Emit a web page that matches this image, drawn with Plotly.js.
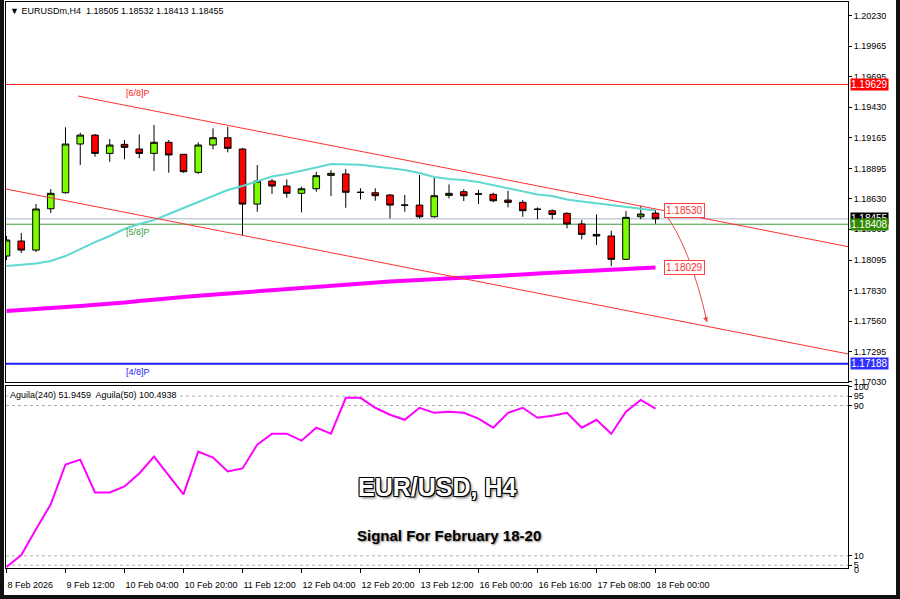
<!DOCTYPE html>
<html><head><meta charset="utf-8">
<script src="https://cdn.plot.ly/plotly-3.0.1.min.js"></script>
<style>
html,body{margin:0;padding:0;background:#fff;}
#frame{position:absolute;left:0;top:0;width:892px;height:595px;border-left:4px solid #111;border-right:4px solid #111;border-bottom:4px solid #111;background:#fff;}
#chart{width:892px;height:595px;}
</style></head><body>
<div id="frame"><div id="chart"></div></div>
<script>
// ---- data (H4 bars, index 0 = 8 Feb 2026) ----
const open  = [1.18130,1.18261,1.18182,1.18543,1.18683,1.19109,1.19187,1.19027,1.19106,1.19065,1.19027,1.19124,1.19019,1.18861,1.19100,1.19164,1.19065,1.18584,1.18785,1.18742,1.18678,1.18718,1.18835,1.18847,1.18688,1.18683,1.18663,1.18576,1.18575,1.18473,1.18660,1.18692,1.18673,1.18669,1.18619,1.18599,1.18540,1.18526,1.18503,1.18410,1.18319,1.18305,1.18101,1.18473,1.18505];
const high  = [1.18305,1.18331,1.18584,1.18715,1.19255,1.19207,1.19196,1.19152,1.19144,1.19193,1.19275,1.19144,1.19022,1.19124,1.19246,1.19260,1.19074,1.18925,1.18803,1.18800,1.18735,1.18867,1.18881,1.18890,1.18722,1.18722,1.18672,1.18663,1.18838,1.18818,1.18756,1.18713,1.18707,1.18683,1.18700,1.18619,1.18555,1.18537,1.18512,1.18444,1.18494,1.18351,1.18523,1.18569,1.18532];
const low   = [1.18095,1.18156,1.18165,1.18506,1.18676,1.18925,1.18998,1.18954,1.18975,1.18984,1.18873,1.18858,1.18858,1.18847,1.19062,1.19036,1.18313,1.18517,1.18672,1.18639,1.18512,1.18692,1.18654,1.18552,1.18625,1.18613,1.18459,1.18517,1.18459,1.18466,1.18634,1.18610,1.18584,1.18599,1.18555,1.18473,1.18451,1.18451,1.18372,1.18276,1.18226,1.18042,1.18095,1.18451,1.18413];
const close = [1.18270,1.18182,1.18541,1.18678,1.19109,1.19187,1.19027,1.19100,1.19080,1.19027,1.19124,1.19013,1.18867,1.19100,1.19164,1.19071,1.18584,1.18785,1.18742,1.18678,1.18718,1.18832,1.18853,1.18687,1.18686,1.18657,1.18575,1.18574,1.18473,1.18657,1.18678,1.18657,1.18671,1.18613,1.18599,1.18526,1.18538,1.18494,1.18410,1.18319,1.18305,1.18101,1.18468,1.18497,1.18455];
const maFast = [1.18042,1.18051,1.18064,1.18086,1.18130,1.18191,1.18252,1.18305,1.18366,1.18410,1.18444,1.18497,1.18549,1.18602,1.18654,1.18707,1.18742,1.18785,1.18825,1.18847,1.18873,1.18903,1.18934,1.18934,1.18928,1.18912,1.18899,1.18881,1.18855,1.18820,1.18803,1.18794,1.18777,1.18750,1.18724,1.18698,1.18667,1.18654,1.18624,1.18606,1.18590,1.18571,1.18558,1.18541,1.18527];
const maSlow = [1.17649,1.17656,1.17662,1.17674,1.17684,1.17693,1.17701,1.17713,1.17723,1.17736,1.17750,1.17761,1.17771,1.17783,1.17793,1.17805,1.17815,1.17824,1.17833,1.17841,1.17850,1.17862,1.17872,1.17883,1.17894,1.17901,1.17907,1.17914,1.17920,1.17927,1.17933,1.17940,1.17946,1.17953,1.17959,1.17968,1.17977,1.17984,1.17990,1.17997,1.18003,1.18007,1.18012,1.18019,1.18029];
const aguila = [4.0,10.4,24.1,37.4,58.6,61.2,43.7,43.7,46.9,53.8,62.8,52.8,42.7,65.5,62.3,54.9,56.5,69.2,75.0,75.0,71.3,78.2,75.0,94.1,94.1,88.8,85.1,82.4,88.8,86.1,86.7,86.1,83.0,78.2,86.1,88.8,83.5,84.6,86.1,78.2,82.4,75.0,86.7,93.0,88.3];

const timeTickIdx = [0,4,8,12,16,20,24,28,32,36,40,44];
const timeLabels = ["8 Feb 2026","9 Feb 12:00","10 Feb 04:00","10 Feb 20:00","11 Feb 12:00","12 Feb 04:00","12 Feb 20:00","13 Feb 12:00","16 Feb 00:00","16 Feb 16:00","17 Feb 08:00","18 Feb 00:00"];
const priceTicks = [1.20230,1.19965,1.19695,1.19430,1.19165,1.18895,1.18630,1.18365,1.18095,1.17830,1.17560,1.17295,1.17030];
const levelTicks = [100,95,90,10,5];
const levelDashed = [95,90,10,5];

const channelUpperX = [4.85, 57.1], channelUpperY = [1.19528, 1.18211];
const channelLowerX = [-1, 57.1],   channelLowerY = [1.18740, 1.17273];
const murrayNames = ["[6/8]P","[5/8]P","[4/8]P"];
const murrayLevels = [1.19629, 1.18408, 1.17188];
const murrayColors = ["#ff2020","#3c9a3c","#2020ff"];
const murrayWidths = [1, 1, 2];
const bidPrice = 1.18455;
const arrowX = [44.6, 46.3, 47.5], arrowY = [1.18506, 1.18226, 1.17553];

// ---- build ----
const idx = open.map((_, i) => i);
const FONT = "Liberation Sans, Arial, sans-serif";

const traces = [
  {type:'scatter', mode:'lines', x:idx, y:maSlow, xaxis:'x', yaxis:'y', line:{color:'#ff00ff', width:4}, hoverinfo:'skip'},
  {type:'scatter', mode:'lines', x:idx, y:maFast, xaxis:'x', yaxis:'y', line:{color:'#5fd8d0', width:2}, hoverinfo:'skip'},
  {type:'scatter', mode:'lines', x:channelUpperX, y:channelUpperY, xaxis:'x', yaxis:'y', line:{color:'#ff3030', width:1}, hoverinfo:'skip'},
  {type:'scatter', mode:'lines', x:channelLowerX, y:channelLowerY, xaxis:'x', yaxis:'y', line:{color:'#ff3030', width:1}, hoverinfo:'skip'},
  {type:'candlestick', x:idx, open:open, high:high, low:low, close:close, xaxis:'x', yaxis:'y',
   whiskerwidth:0,
   increasing:{fillcolor:'#7cfc00', line:{color:'#000', width:1}},
   decreasing:{fillcolor:'#ff0000', line:{color:'#000', width:1}}, hoverinfo:'skip'},
  {type:'scatter', mode:'lines', x:idx, y:aguila, xaxis:'x2', yaxis:'y2', line:{color:'#ff00ff', width:2}, hoverinfo:'skip'}
];

const shapes = [];
murrayLevels.forEach((v, k) => shapes.push({type:'line', xref:'x domain', x0:0, x1:1, yref:'y', y0:v, y1:v, line:{color:murrayColors[k], width:murrayWidths[k]}, layer:'below'}));
shapes.push({type:'line', xref:'x domain', x0:0, x1:1, yref:'y', y0:bidPrice, y1:bidPrice, line:{color:'#aab4c8', width:1}, layer:'below'});
levelDashed.forEach(v => shapes.push({type:'line', xref:'x domain', x0:0, x1:1, yref:'y2', y0:v, y1:v, line:{color:'#b0b0b0', width:1, dash:'dot'}, layer:'below'}));
shapes.push({type:'path', xref:'x', yref:'y',
  path:`M ${arrowX[0]},${arrowY[0]} Q ${arrowX[1]},${arrowY[1]} ${arrowX[2]},${arrowY[2]}`,
  line:{color:'#e84a4a', width:1}});

const annotations = [];
murrayLevels.forEach((v, k) => annotations.push({xref:'x', x:7.95, xanchor:'left', yref:'y', y:v, yanchor:'top', yshift:-1,
  text:murrayNames[k], showarrow:false, font:{family:FONT, size:9, color:murrayColors[k]}}));
// axis price boxes
const boxes = [[1.19629,'#ff0000'],[bidPrice,'#000000'],[1.18408,'#2f8a00'],[1.17188,'#2f2fff']];
boxes.forEach(b => annotations.push({xref:'paper', x:1, xanchor:'left', xshift:2, yref:'y', y:b[0], yanchor:'middle',
  text:b[0].toFixed(5), showarrow:false, bgcolor:b[1], borderpad:0, font:{family:FONT, size:10, color:'#fff'}}));
// MA value boxes
[[maFast[maFast.length-1]+0.00003],[maSlow[maSlow.length-1]]].forEach(v => annotations.push({xref:'x', x:44.55, xanchor:'left', yref:'y', y:v[0], yanchor:'middle',
  text:v[0].toFixed(5), showarrow:false, bgcolor:'#ffffff', bordercolor:'#ff4040', borderwidth:1, borderpad:1, font:{family:FONT, size:10, color:'#ff3030'}}));
// arrow head
annotations.push({xref:'x', yref:'y', x:arrowX[2], y:arrowY[2], axref:'x', ayref:'y', ax:arrowX[2]-0.12, ay:arrowY[2]+0.0004,
  showarrow:true, arrowhead:2, arrowsize:1, arrowwidth:1, arrowcolor:'#e84a4a', text:''});
// header & indicator label
annotations.push({xref:'paper', x:0, xanchor:'left', xshift:2, yref:'paper', y:1, yanchor:'top', yshift:-2,
  text:'▼ EURUSDm,H4  ' + [open[44],high[44],low[44],close[44]].map(v=>v.toFixed(5)).join(' '),
  showarrow:false, font:{family:FONT, size:9, color:'#000'}});
annotations.push({xref:'paper', x:0, xanchor:'left', xshift:2, yref:'y2 domain', y:1, yanchor:'top', yshift:-2,
  text:'Aguila(240) 51.9459  Aguila(50) 100.4938', showarrow:false, font:{family:FONT, size:9, color:'#000'}, bgcolor:'#fff'});
// indicator minimum label
annotations.push({xref:'paper', x:1, xanchor:'left', xshift:4, yref:'y2 domain', y:0, yanchor:'middle', yshift:-2,
  text:'0', showarrow:false, font:{family:FONT, size:9, color:'#000'}});
// big titles
annotations.push({xref:'paper', x:0.512, yref:'paper', y:0.143, xanchor:'center', yanchor:'middle', showarrow:false,
  text:'EUR/USD, H4', font:{family:FONT, size:25, weight:'bold', color:'#ffffff',
  shadow:'-1px -1px 0 #000, 1px -1px 0 #000, -1px 1px 0 #000, 1px 1px 0 #000, 0 0 1px #000, 2px 2px 3px #666'}});
annotations.push({xref:'paper', x:0.526, yref:'paper', y:0.058, xanchor:'center', yanchor:'middle', showarrow:false,
  text:'Signal For February 18-20', font:{family:FONT, size:15, weight:'bold', color:'#000', shadow:'1px 1px 2px #888'}});

const axBase = {showgrid:false, zeroline:false, showline:true, mirror:true, linecolor:'#000', linewidth:1,
  tickfont:{family:FONT, size:9, color:'#000'}, tickcolor:'#000', ticklen:3, ticks:'outside'};

const layout = {
  width:892, height:595,
  margin:{l:2, r:48, t:2, b:27},
  paper_bgcolor:'#fff', plot_bgcolor:'#fff',
  showlegend:false, dragmode:false, boxgap:0.36,
  xaxis:Object.assign({}, axBase, {domain:[0,1], anchor:'y', range:[-0.034, 57.05], showticklabels:false, ticks:'', rangeslider:{visible:false}}),
  yaxis:Object.assign({}, axBase, {domain:[0.3286,1], anchor:'x', side:'right', range:[1.17029, 1.2035],
    tickvals:priceTicks, ticktext:priceTicks.map(v=>v.toFixed(5))}),
  xaxis2:Object.assign({}, axBase, {domain:[0,1], anchor:'y2', matches:'x', range:[-0.034, 57.05],
    tickvals:timeTickIdx, ticktext:timeLabels, ticklen:4, tickangle:0, ticklabelposition:'outside right', ticklabelstandoff:8}),
  yaxis2:Object.assign({}, axBase, {domain:[0,0.3216], anchor:'x2', side:'right', range:[3.5, 100.4],
    tickvals:levelTicks, ticktext:levelTicks.map(String)}),
  shapes:shapes, annotations:annotations
};

Plotly.newPlot('chart', traces, layout, {staticPlot:true, displayModeBar:false});
</script></body></html>
